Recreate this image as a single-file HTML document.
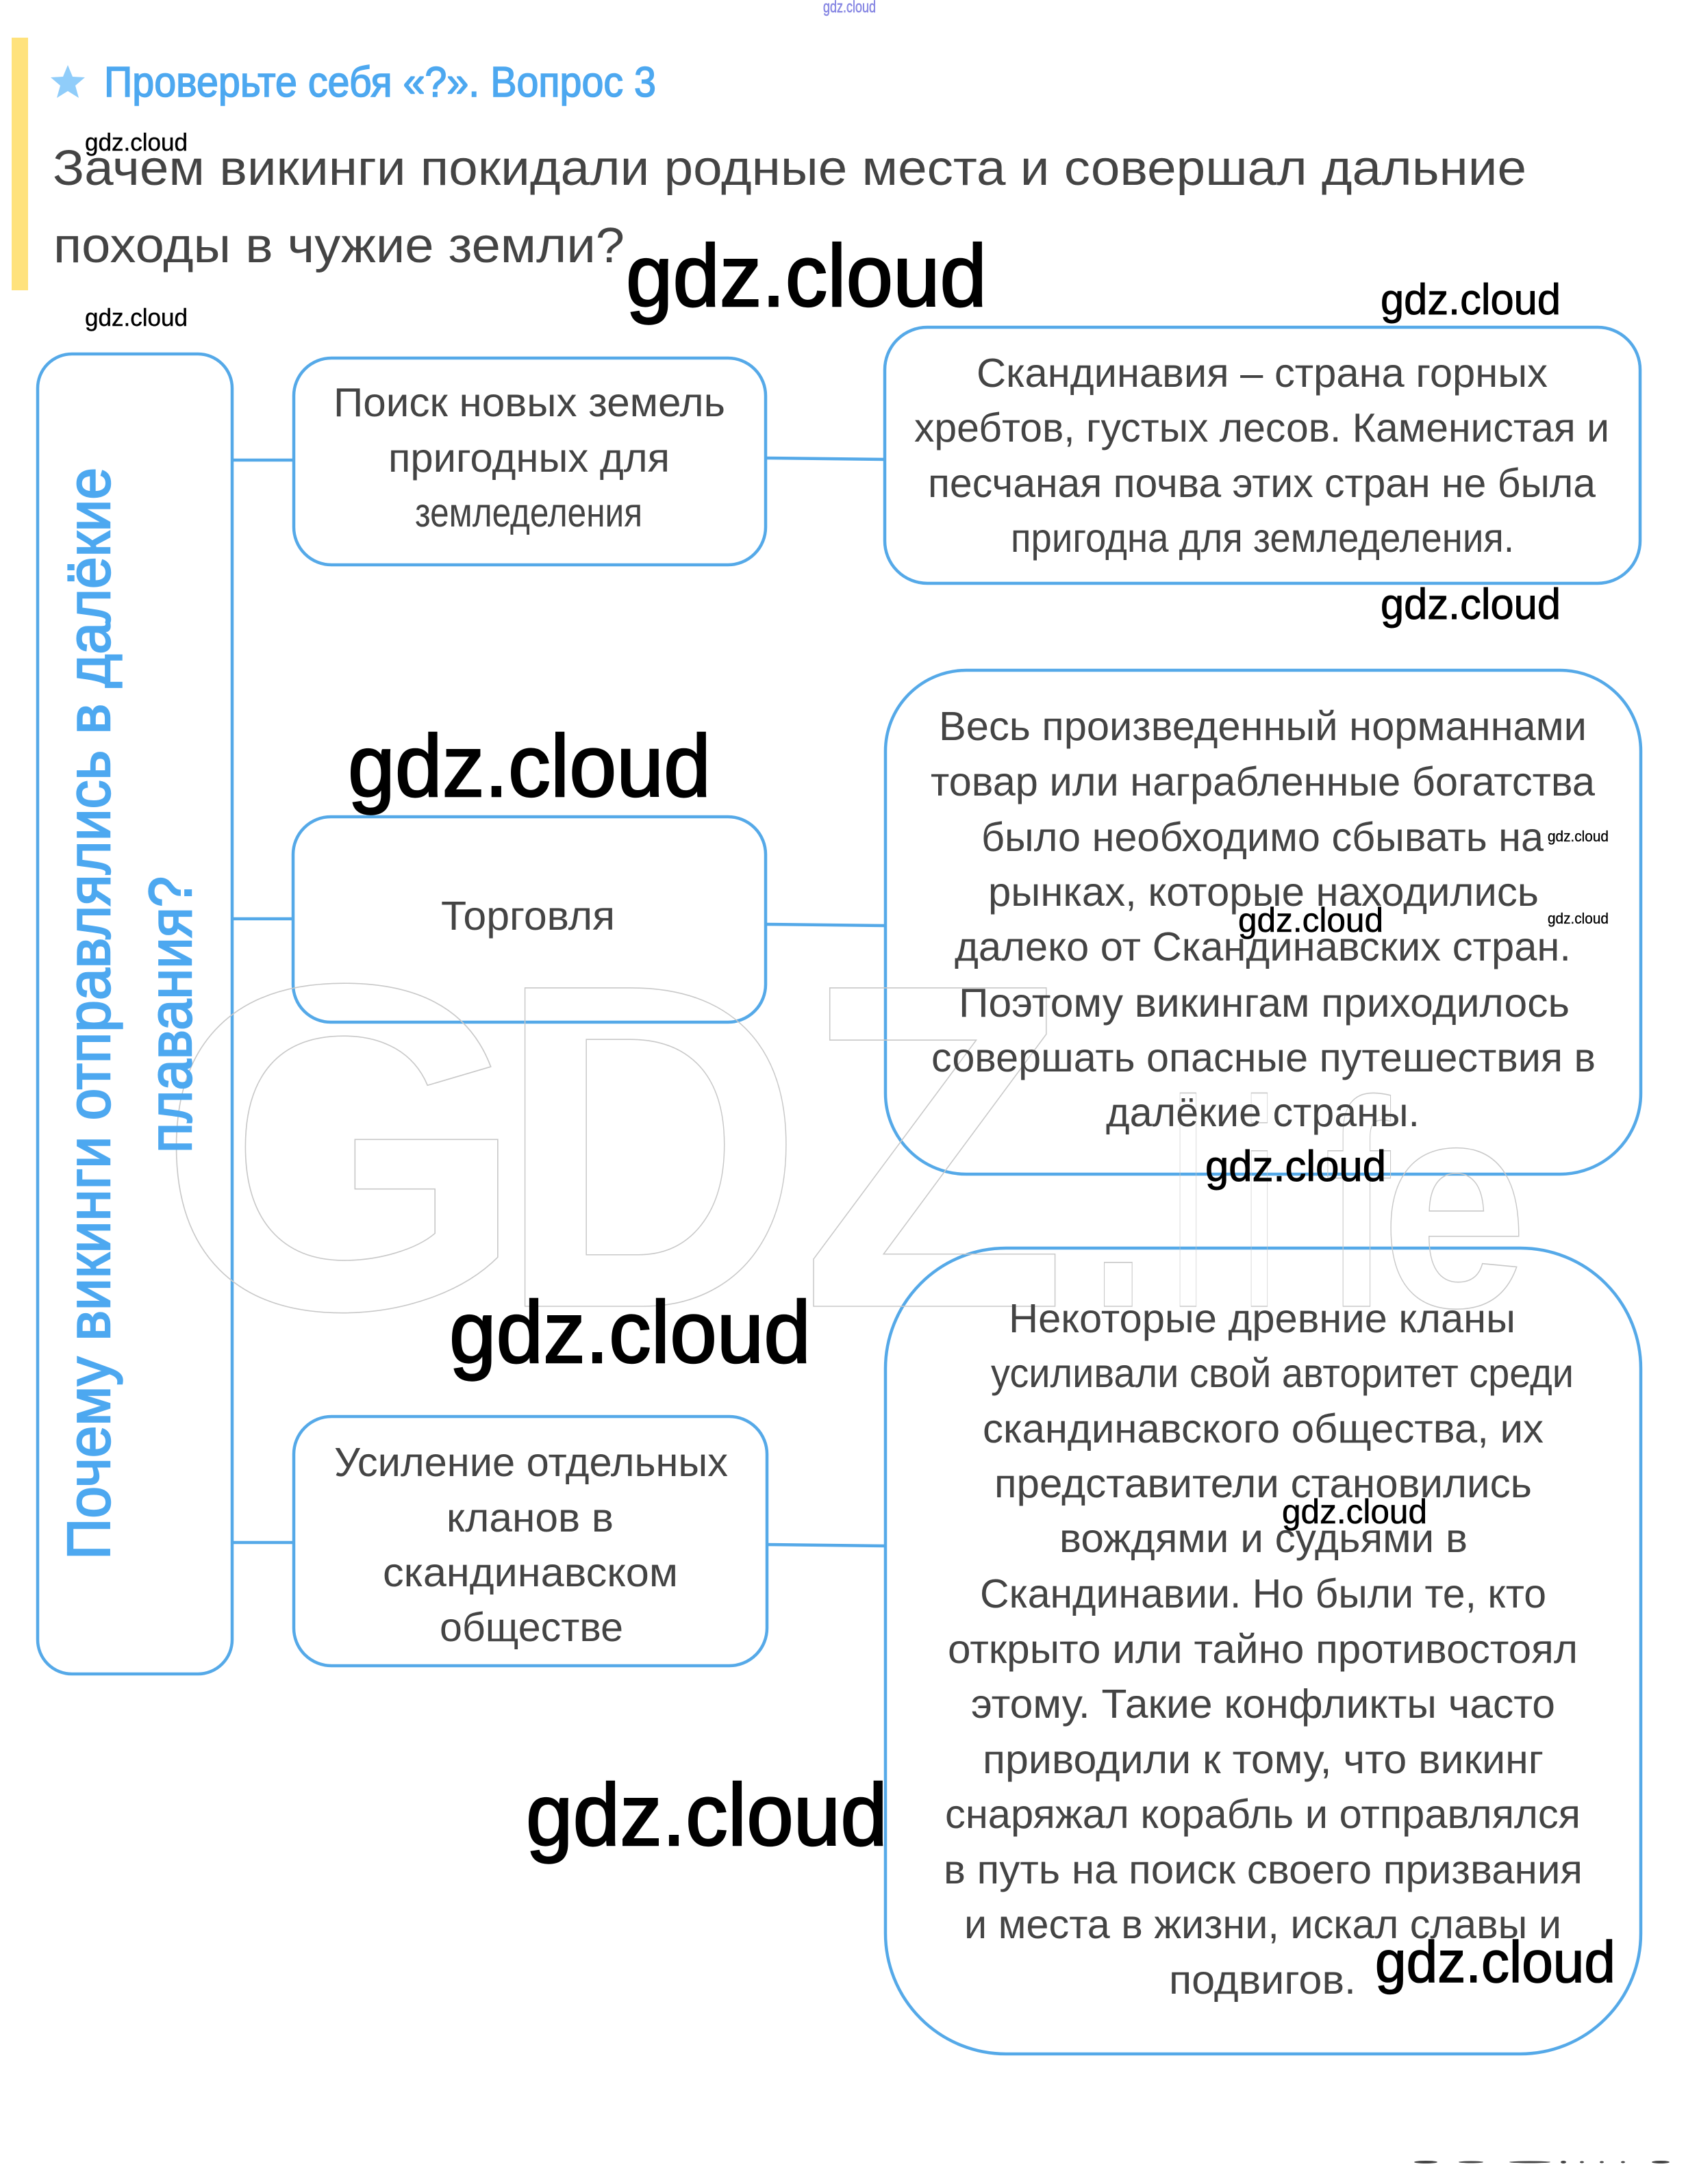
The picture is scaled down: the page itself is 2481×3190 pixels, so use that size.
<!DOCTYPE html>
<html lang="ru">
<head>
<meta charset="utf-8">
<title>Зачем викинги покидали родные места</title>
<style>
html,body{margin:0;padding:0;background:#fff}
svg{display:block}
text{font-family:"Liberation Sans",sans-serif;white-space:pre}
.t{fill:#444;font-size:59px}
.q{fill:#444;font-size:72px}
.b{fill:#4da8f0}
.w{fill:#000;stroke:#000;stroke-width:1}
.box{fill:none;stroke:#55a9e8;stroke-width:4.5}
.ln{stroke:#55a9e8;stroke-width:4.5;fill:none}
.g{fill:none;stroke:#c8c8c8;stroke-width:1.6;font-weight:bold}
</style>
</head>
<body>
<svg xmlns="http://www.w3.org/2000/svg" width="2481" height="3190" viewBox="0 0 2481 3190">
<rect width="2481" height="3190" fill="#fff"/>
<rect x="17" y="55" width="24" height="369" fill="#ffe27c"/>
<polygon points="99,95 106,112 124,113 110,125 115,143 99,133 83,143 88,125 74,113 92,112" fill="#90cdfa"/>

<rect class="box" x="55" y="517" width="284" height="1928" rx="50"/>
<rect class="box" x="429" y="523" width="689" height="302" rx="55"/>
<rect class="box" x="1292" y="478" width="1103" height="374" rx="62"/>
<rect class="box" x="428" y="1193" width="690" height="300" rx="55"/>
<rect class="box" x="1293" y="979" width="1103" height="736" rx="118"/>
<rect class="box" x="429" y="2069" width="691" height="364" rx="55"/>
<rect class="box" x="1293" y="1823" width="1103" height="1177" rx="176"/>

<line class="ln" x1="339" y1="672" x2="429" y2="672"/>
<line class="ln" x1="1118" y1="669" x2="1292" y2="671"/>
<line class="ln" x1="339" y1="1342" x2="428" y2="1342"/>
<line class="ln" x1="1118" y1="1350" x2="1293" y2="1352"/>
<line class="ln" x1="339" y1="2253" x2="429" y2="2253"/>
<line class="ln" x1="1120" y1="2256" x2="1293" y2="2258"/>

<text class="g" x="229" y="1911" font-size="680" textLength="541" lengthAdjust="spacingAndGlyphs">G</text>
<text class="g" x="725" y="1908" font-size="676" textLength="449" lengthAdjust="spacingAndGlyphs">D</text>
<text class="g" x="1169" y="1908" font-size="676" textLength="390" lengthAdjust="spacingAndGlyphs">Z</text>
<text class="g" x="1593" y="1908" font-size="430" textLength="80" lengthAdjust="spacingAndGlyphs">.</text>
<text class="g" x="1711" y="1908" font-size="430" textLength="48" lengthAdjust="spacingAndGlyphs">l</text>
<text class="g" x="1815" y="1908" font-size="430" textLength="48" lengthAdjust="spacingAndGlyphs">i</text>
<text class="g" x="1934" y="1908" font-size="430" textLength="96" lengthAdjust="spacingAndGlyphs">f</text>
<text class="g" x="2016" y="1908" font-size="430" textLength="215" lengthAdjust="spacingAndGlyphs">e</text>

<text x="152" y="141" font-size="62" class="b" textLength="806" lengthAdjust="spacingAndGlyphs" style="stroke:#4da8f0;stroke-width:1.6">Проверьте себя «?». Вопрос 3</text>
<text class="q" x="77" y="270" textLength="2152" lengthAdjust="spacingAndGlyphs">Зачем викинги покидали родные места и совершал дальние</text>
<text class="q" x="78" y="383" textLength="834" lengthAdjust="spacingAndGlyphs">походы в чужие земли?</text>

<text class="b" font-size="88" transform="translate(160 2278) rotate(-90)" textLength="1595" lengthAdjust="spacingAndGlyphs" style="stroke:#4da8f0;stroke-width:2.4">Почему викинги отправлялись в далёкие</text>
<text class="b" font-size="88" transform="translate(279 1684) rotate(-90)" textLength="404" lengthAdjust="spacingAndGlyphs" style="stroke:#4da8f0;stroke-width:2.4">плавания?</text>

<text class="t" x="487" y="608" textLength="572" lengthAdjust="spacingAndGlyphs">Поиск новых земель</text>
<text class="t" x="567" y="689" textLength="411" lengthAdjust="spacingAndGlyphs">пригодных для</text>
<text class="t" x="606" y="769" textLength="332" lengthAdjust="spacingAndGlyphs">земледеления</text>

<text class="t" x="1426" y="565" textLength="834" lengthAdjust="spacingAndGlyphs">Скандинавия – страна горных</text>
<text class="t" x="1335" y="645" textLength="1015" lengthAdjust="spacingAndGlyphs">хребтов, густых лесов. Каменистая и</text>
<text class="t" x="1355" y="726" textLength="975" lengthAdjust="spacingAndGlyphs">песчаная почва этих стран не была</text>
<text class="t" x="1476" y="806" textLength="735" lengthAdjust="spacingAndGlyphs">пригодна для земледеления.</text>

<text class="t" x="644" y="1358" textLength="254" lengthAdjust="spacingAndGlyphs">Торговля</text>

<text class="t" x="1371" y="1081" textLength="946" lengthAdjust="spacingAndGlyphs">Весь произведенный норманнами</text>
<text class="t" x="1359" y="1162" textLength="970" lengthAdjust="spacingAndGlyphs">товар или награбленные богатства</text>
<text class="t" x="1433" y="1243" textLength="821" lengthAdjust="spacingAndGlyphs">было необходимо сбывать на</text>
<text class="t" x="1443" y="1323" textLength="804" lengthAdjust="spacingAndGlyphs">рынках, которые находились</text>
<text class="t" x="1394" y="1403" textLength="900" lengthAdjust="spacingAndGlyphs">далеко от Скандинавских стран.</text>
<text class="t" x="1400" y="1485" textLength="892" lengthAdjust="spacingAndGlyphs">Поэтому викингам приходилось</text>
<text class="t" x="1360" y="1565" textLength="970" lengthAdjust="spacingAndGlyphs">совершать опасные путешествия в</text>
<text class="t" x="1615" y="1645" textLength="458" lengthAdjust="spacingAndGlyphs">далёкие страны.</text>

<text class="t" x="488" y="2156" textLength="575" lengthAdjust="spacingAndGlyphs">Усиление отдельных</text>
<text class="t" x="652" y="2237" textLength="244" lengthAdjust="spacingAndGlyphs">кланов в</text>
<text class="t" x="559" y="2317" textLength="431" lengthAdjust="spacingAndGlyphs">скандинавском</text>
<text class="t" x="642" y="2397" textLength="268" lengthAdjust="spacingAndGlyphs">обществе</text>

<text class="t" x="1473" y="1946" textLength="740" lengthAdjust="spacingAndGlyphs">Некоторые древние кланы</text>
<text class="t" x="1447" y="2026" textLength="851" lengthAdjust="spacingAndGlyphs">усиливали свой авторитет среди</text>
<text class="t" x="1435" y="2107" textLength="819" lengthAdjust="spacingAndGlyphs">скандинавского общества, их</text>
<text class="t" x="1452" y="2187" textLength="785" lengthAdjust="spacingAndGlyphs">представители становились</text>
<text class="t" x="1547" y="2267" textLength="596" lengthAdjust="spacingAndGlyphs">вождями и судьями в</text>
<text class="t" x="1431" y="2348" textLength="827" lengthAdjust="spacingAndGlyphs">Скандинавии. Но были те, кто</text>
<text class="t" x="1384" y="2429" textLength="920" lengthAdjust="spacingAndGlyphs">открыто или тайно противостоял</text>
<text class="t" x="1418" y="2509" textLength="853" lengthAdjust="spacingAndGlyphs">этому. Такие конфликты часто</text>
<text class="t" x="1435" y="2590" textLength="819" lengthAdjust="spacingAndGlyphs">приводили к тому, что викинг</text>
<text class="t" x="1380" y="2670" textLength="928" lengthAdjust="spacingAndGlyphs">снаряжал корабль и отправлялся</text>
<text class="t" x="1378" y="2751" textLength="933" lengthAdjust="spacingAndGlyphs">в путь на поиск своего призвания</text>
<text class="t" x="1408" y="2831" textLength="872" lengthAdjust="spacingAndGlyphs">и места в жизни, искал славы и</text>
<text class="t" x="1707" y="2912" textLength="273" lengthAdjust="spacingAndGlyphs">подвигов.</text>

<text x="1202" y="18" font-size="24" textLength="77" lengthAdjust="spacingAndGlyphs" style="fill:#8f8fe6;stroke:#7777dd;stroke-width:.5">gdz.cloud</text>
<text class="w" x="124" y="220" font-size="36" textLength="150" lengthAdjust="spacingAndGlyphs" style="stroke-width:.4">gdz.cloud</text>
<text class="w" x="124" y="476" font-size="36" textLength="150" lengthAdjust="spacingAndGlyphs" style="stroke-width:.4">gdz.cloud</text>
<text class="w" x="914" y="447" font-size="128" textLength="527" lengthAdjust="spacingAndGlyphs" style="stroke-width:2.5">gdz.cloud</text>
<text class="w" x="2016" y="459" font-size="63" textLength="263" lengthAdjust="spacingAndGlyphs">gdz.cloud</text>
<text class="w" x="2016" y="904" font-size="63" textLength="263" lengthAdjust="spacingAndGlyphs">gdz.cloud</text>
<text class="w" x="508" y="1163" font-size="128" textLength="530" lengthAdjust="spacingAndGlyphs" style="stroke-width:2.5">gdz.cloud</text>
<text class="w" x="2260" y="1229" font-size="22" textLength="89" lengthAdjust="spacingAndGlyphs" style="stroke-width:.3">gdz.cloud</text>
<text class="w" x="2260" y="1349" font-size="22" textLength="89" lengthAdjust="spacingAndGlyphs" style="stroke-width:.3">gdz.cloud</text>
<text class="w" x="1808" y="1361" font-size="50" textLength="212" lengthAdjust="spacingAndGlyphs" style="stroke-width:.6">gdz.cloud</text>
<text class="w" x="1760" y="1725" font-size="63" textLength="264" lengthAdjust="spacingAndGlyphs">gdz.cloud</text>
<text class="w" x="656" y="1990" font-size="128" textLength="528" lengthAdjust="spacingAndGlyphs" style="stroke-width:2.5">gdz.cloud</text>
<text class="w" x="1872" y="2225" font-size="50" textLength="212" lengthAdjust="spacingAndGlyphs" style="stroke-width:.6">gdz.cloud</text>
<text class="w" x="768" y="2695" font-size="128" textLength="528" lengthAdjust="spacingAndGlyphs" style="stroke-width:2.5">gdz.cloud</text>
<text class="w" x="2008" y="2895" font-size="85" textLength="351" lengthAdjust="spacingAndGlyphs" style="stroke-width:1.5">gdz.cloud</text>

<g fill="#444">
<ellipse cx="2082" cy="3158" rx="17" ry="2"/>
<ellipse cx="2148" cy="3158" rx="18" ry="1.5"/>
<ellipse cx="2234" cy="3158" rx="30" ry="1.5"/>
<ellipse cx="2283" cy="3158" rx="4" ry="2"/>
<ellipse cx="2310" cy="3158" rx="3" ry="1.5"/>
<ellipse cx="2339" cy="3158" rx="3" ry="1.5"/>
<ellipse cx="2370" cy="3158" rx="3" ry="1.5"/>
<ellipse cx="2425" cy="3158" rx="13" ry="2"/>
</g>
</svg>
</body>
</html>
